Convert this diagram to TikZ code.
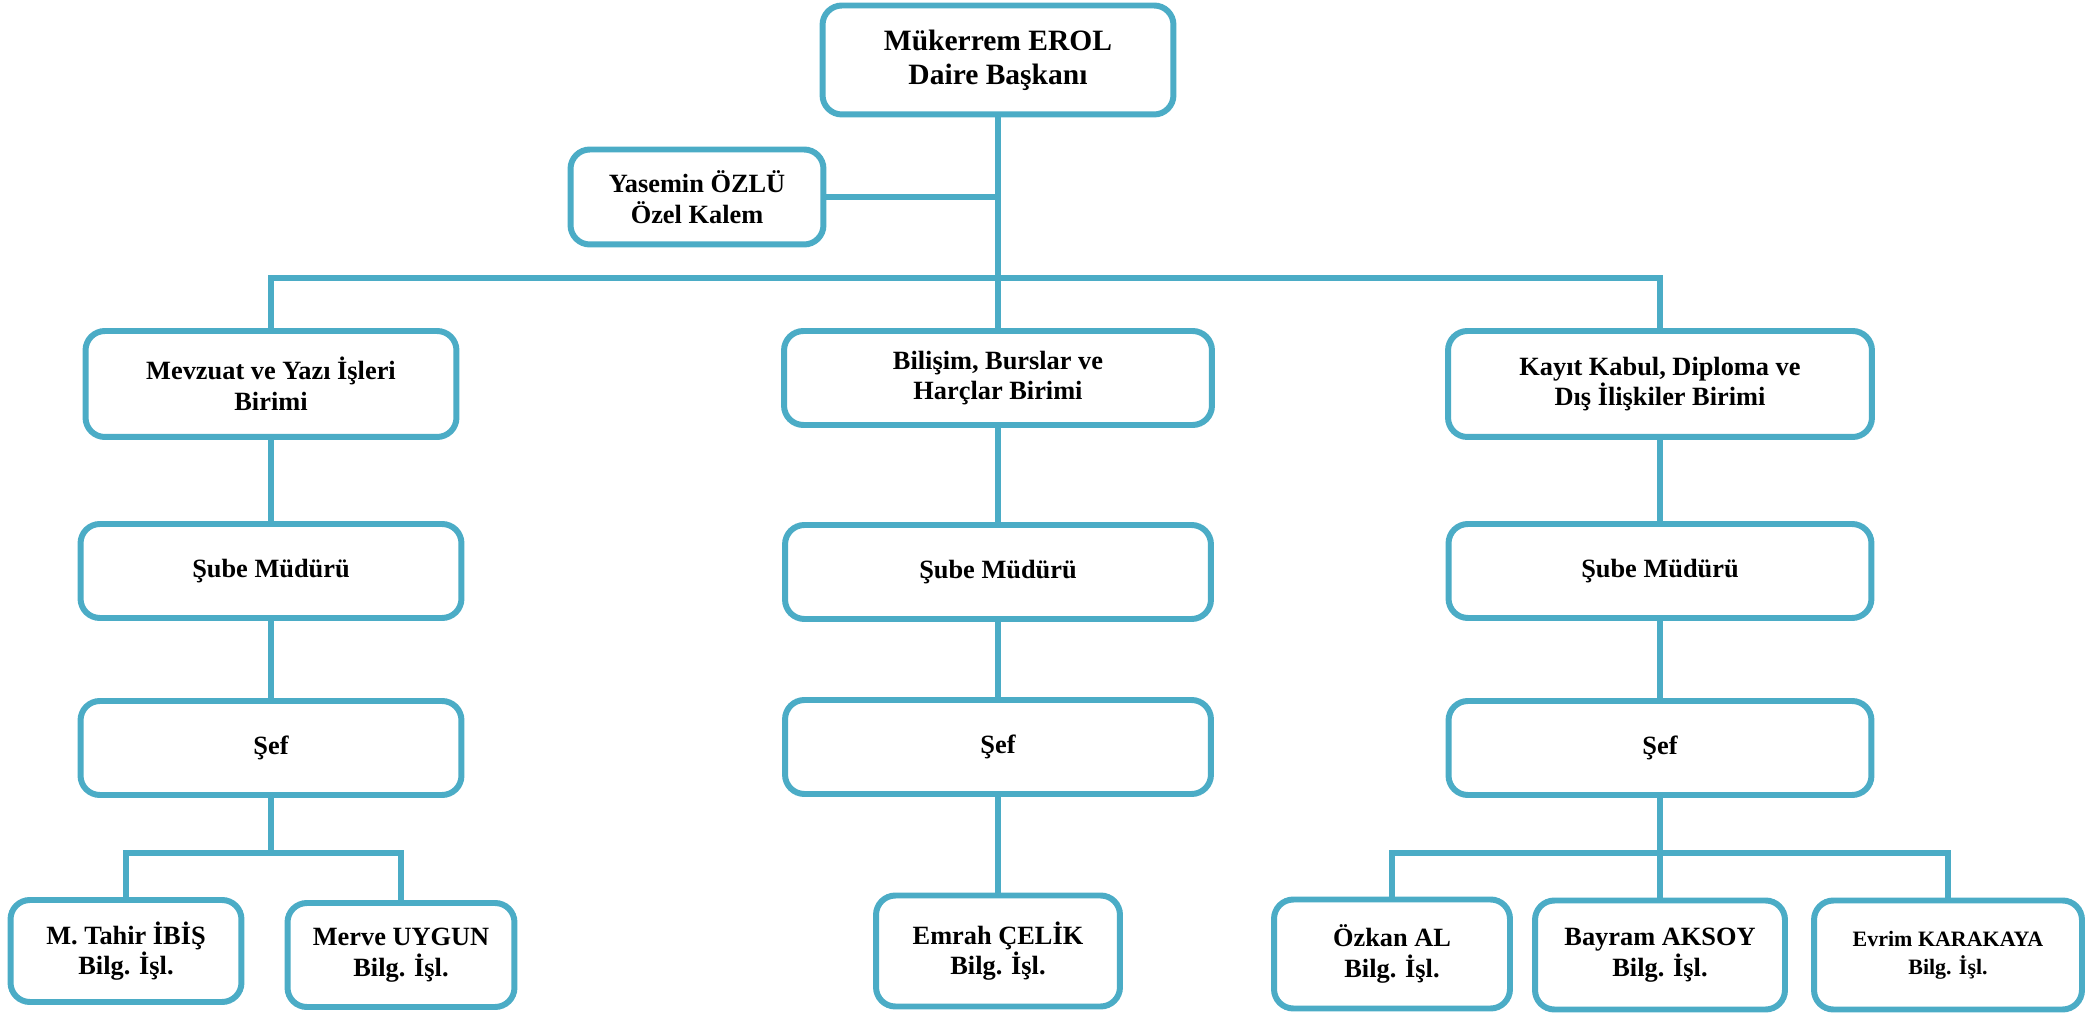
\documentclass[tikz,border=0pt]{standalone}
\usepackage{fontspec}
\setmainfont{Liberation Serif}
\usepackage{tikz}

\definecolor{ocean}{HTML}{4BACC6}
\tikzset{
    box/.style={draw=ocean, line width=3.4pt, rounded corners=11pt, fill=white,
        align=center, inner sep=0pt, font=\bfseries\fontsize{15}{17.5}\selectfont},
    link/.style={draw=ocean, line width=3.2pt},
}

\begin{document}
\begin{tikzpicture}[x=0.02cm, y=-0.02cm]
    \useasboundingbox (0,0) rectangle (2087,1016);
    % top level
    \node[box, minimum width=7.02cm, minimum height=2.18cm, font=\bfseries\fontsize{16.8}{19.3}\selectfont] (top) at (998,60) {Mükerrem EROL\\Daire Başkanı};
    \node[box, minimum width=5.06cm, minimum height=1.9cm] (yasemin) at (697,197) {Yasemin ÖZLÜ\\Özel Kalem};
    % units
    \node[box, minimum width=7.42cm, minimum height=2.12cm] (mevzuat) at (271,384) {Mevzuat ve Yazı İşleri\\Birimi};
    \node[box, minimum width=8.56cm, minimum height=1.88cm] (bilisim) at (998,378) {Bilişim, Burslar ve\\Harçlar Birimi};
    \node[box, minimum width=8.48cm, minimum height=2.12cm] (kayit) at (1660,384) {Kayıt Kabul, Diploma ve\\Dış İlişkiler Birimi};
    % sube mudurleri
    \node[box, minimum width=7.62cm, minimum height=1.88cm] (subeL) at (271,571) {Şube Müdürü};
    \node[box, minimum width=8.52cm, minimum height=1.88cm] (subeM) at (998,572) {Şube Müdürü};
    \node[box, minimum width=8.46cm, minimum height=1.88cm] (subeR) at (1660,571) {Şube Müdürü};
    % sefler
    \node[box, minimum width=7.62cm, minimum height=1.88cm] (sefL) at (271,748) {Şef};
    \node[box, minimum width=8.52cm, minimum height=1.88cm] (sefM) at (998,747) {Şef};
    \node[box, minimum width=8.46cm, minimum height=1.88cm] (sefR) at (1660,748) {Şef};
    % staff
    \node[box, minimum width=4.62cm, minimum height=2.04cm] (tahir) at (126,951) {M. Tahir İBİŞ\\Bilg. İşl.};
    \node[box, minimum width=4.54cm, minimum height=2.08cm] (merve) at (401,955) {Merve UYGUN\\Bilg. İşl.};
    \node[box, minimum width=4.88cm, minimum height=2.22cm] (emrah) at (998,951) {Emrah ÇELİK\\Bilg. İşl.};
    \node[box, minimum width=4.72cm, minimum height=2.18cm] (ozkan) at (1392,954) {Özkan AL\\Bilg. İşl.};
    \node[box, minimum width=5.0cm, minimum height=2.18cm] (bayram) at (1660,955) {Bayram AKSOY\\Bilg. İşl.};
    \node[box, minimum width=5.36cm, minimum height=2.18cm, font=\bfseries\fontsize{12.5}{16}\selectfont] (evrim) at (1948,955) {Evrim KARAKAYA\\Bilg. İşl.};

    \coordinate (busR) at (1660,278);
    \coordinate (hubL) at (271,853);
    \coordinate (hubR) at (1660,853);
    \draw[link] (top) -- (bilisim);
    \draw[link] (yasemin.east) -- (yasemin.east -| top.south);
    \draw[link] (mevzuat.north) |- (busR) -- (kayit.north);
    \draw[link] (mevzuat) -- (subeL);
    \draw[link] (subeL) -- (sefL);
    \draw[link] (sefL) -- (hubL);
    \draw[link] (tahir.north) |- (hubL) -| (merve.north);
    \draw[link] (bilisim) -- (subeM);
    \draw[link] (subeM) -- (sefM);
    \draw[link] (sefM) -- (emrah);
    \draw[link] (kayit) -- (subeR);
    \draw[link] (subeR) -- (sefR);
    \draw[link] (sefR) -- (bayram);
    \draw[link] (ozkan.north) |- (hubR) -| (evrim.north);
\end{tikzpicture}
\end{document}
